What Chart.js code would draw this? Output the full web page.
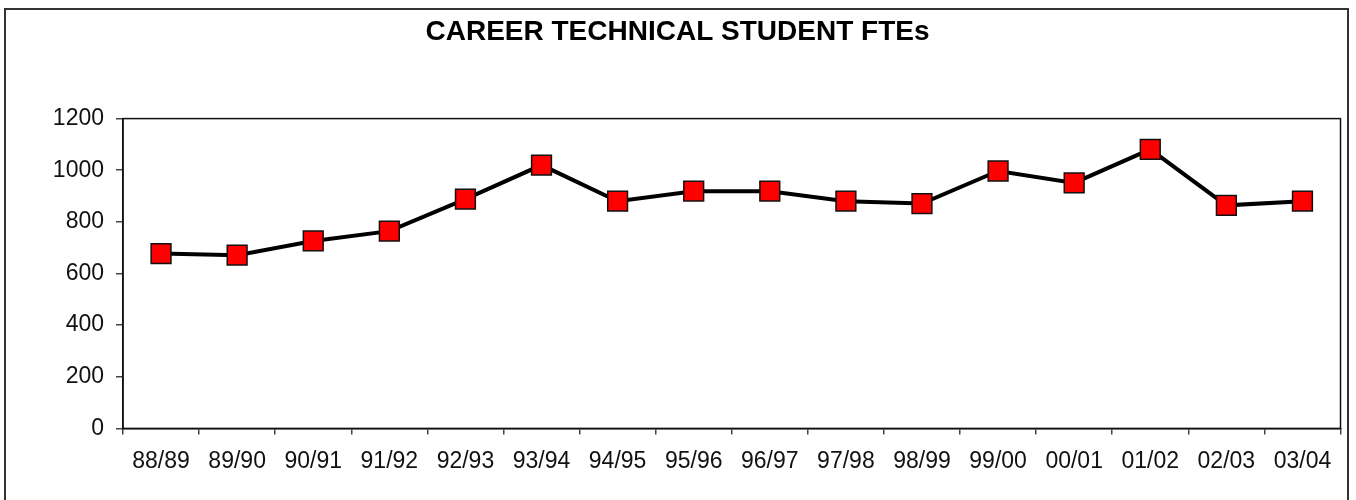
<!DOCTYPE html>
<html>
<head>
<meta charset="utf-8">
<script src="https://cdn.jsdelivr.net/npm/chart.js@4"></script>
<style>
  html, body { margin: 0; padding: 0; background: #fff; }
  #wrap { position: relative; width: 1356px; height: 500px; overflow: hidden; }
  #frame { position: absolute; left: 4px; top: 8px; width: 1345px; height: 500px; border: 2px solid #333; box-sizing: border-box; }
  canvas { position: absolute; left: 0; top: 0; }
</style>
</head>
<body>
<div id="wrap">
  <div id="frame"></div>
  <canvas id="c" width="1356" height="500"></canvas>
</div>
<script>
const categories = ["88/89","89/90","90/91","91/92","92/93","93/94","94/95","95/96","96/97","97/98","98/99","99/00","00/01","01/02","02/03","03/04"];
const fteValues = [677, 671, 726, 764, 888, 1020, 880, 919, 919, 880, 871, 997, 951, 1081, 864, 880];
const yTicks = [0, 200, 400, 600, 800, 1000, 1200];
const chartTitle = "CAREER TECHNICAL STUDENT FTEs";

const frameBorder = {
  id: 'frameBorder',
  afterDatasetsDraw(chart) {
    const {ctx, chartArea: a} = chart;
    ctx.save();
    ctx.strokeStyle = '#111';
    ctx.lineWidth = 1.5;
    ctx.strokeRect(a.left, a.top, a.right - a.left, a.bottom - a.top);
    ctx.restore();
  }
};

new Chart(document.getElementById('c'), {
  type: 'line',
  data: {
    labels: categories,
    datasets: [{
      data: fteValues,
      borderColor: '#000',
      borderWidth: 4,
      tension: 0,
      pointStyle: 'rect',
      pointRadius: 14,
      pointHoverRadius: 14,
      pointBackgroundColor: '#ff0000',
      pointBorderColor: '#111',
      pointBorderWidth: 1.5
    }]
  },
  options: {
    responsive: false,
    animation: false,
    devicePixelRatio: 1,
    layout: { padding: { left: 10, right: 11, top: 0, bottom: 12 } },
    plugins: {
      legend: { display: false },
      tooltip: { enabled: false },
      title: {
        display: true,
        text: chartTitle,
        color: '#000',
        font: { family: 'Liberation Sans, Arial, sans-serif', size: 28, weight: 'bold' },
        padding: { top: 15, bottom: 70 }
      }
    },
    scales: {
      x: {
        offset: true,
        afterFit(scale) { scale.paddingLeft = 0; scale.paddingRight = 0; },
        grid: { offset: true, drawOnChartArea: false, tickLength: 6, color: '#444', lineWidth: 1.5 },
        border: { display: true, color: '#111', width: 1.5 },
        ticks: {
          color: '#111',
          padding: 13,
          maxRotation: 0,
          autoSkip: false,
          font: { family: 'Liberation Sans, Arial, sans-serif', size: 23 }
        }
      },
      y: {
        min: 0,
        max: 1200,
        afterBuildTicks(scale) { scale.ticks = yTicks.map(v => ({ value: v })); },
        afterFit(scale) { scale.width = 113; },
        grid: { drawOnChartArea: false, tickLength: 7, color: '#444', lineWidth: 1.5 },
        border: { display: true, color: '#111', width: 1.5 },
        ticks: {
          color: '#111',
          padding: 12,
          callback: (v) => String(v),
          font: { family: 'Liberation Sans, Arial, sans-serif', size: 23 }
        }
      }
    }
  },
  plugins: [frameBorder]
});
</script>
</body>
</html>
